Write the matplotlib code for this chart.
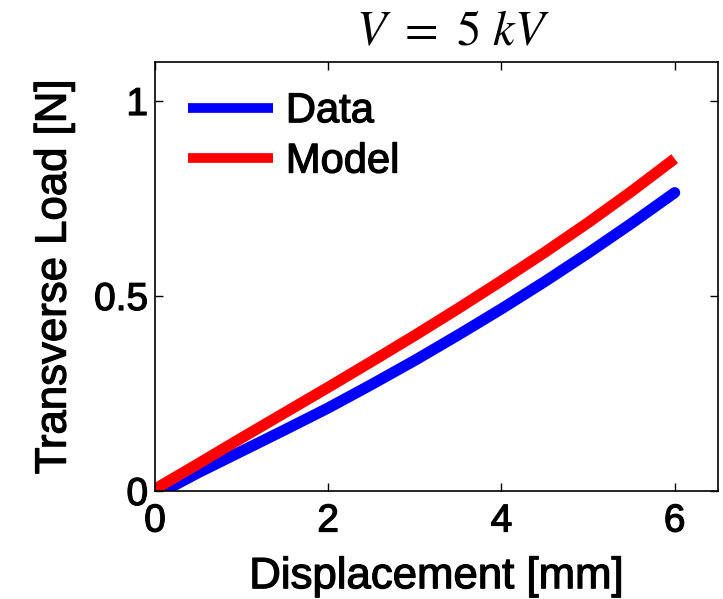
import matplotlib
matplotlib.use("Agg")
import matplotlib.pyplot as plt
import matplotlib.patheffects as pe

data_x = [0.1, 0.5, 1, 1.5, 2, 2.5, 3, 3.5, 4, 4.5, 5, 5.5, 6]
data_y = [0.0, 0.047, 0.102, 0.157, 0.213, 0.273, 0.335, 0.4, 0.467, 0.537, 0.61, 0.686, 0.765]
model_x = [0, 0.5, 1, 1.5, 2, 2.5, 3, 3.5, 4, 4.5, 5, 5.5, 6]
model_y = [0.005, 0.07, 0.136, 0.201, 0.266, 0.332, 0.399, 0.468, 0.539, 0.612, 0.688, 0.768, 0.852]

plt.rcParams['font.family'] = ['Liberation Sans', 'DejaVu Sans']
plt.rcParams['mathtext.fontset'] = 'stix'

fig = plt.figure(figsize=(7.23, 5.99), dpi=100)
ax = fig.add_axes([155/723, 1-491/599, (718-155)/723, (491-62)/599])

ax.plot(data_x, data_y, color='#0000ff', lw=8, label='Data', solid_capstyle='round', solid_joinstyle='round')
ax.plot(model_x, model_y, color='#ff0000', lw=8, label='Model', solid_capstyle='butt', solid_joinstyle='round')

ax.set_xlim(0, 6.5)
ax.set_ylim(0, 1.1)
ax.set_xticks([0, 2, 4, 6])
ax.set_yticks([0, 0.5, 1])
ax.set_yticklabels(['0', '0.5', '1'])
ax.tick_params(direction='in', labelsize=28, length=6, width=1, top=True, right=True)
ax.tick_params(axis='x', pad=9)
ax.tick_params(axis='y', pad=5)
for s in ax.spines.values():
    s.set_linewidth(1.2)
xl = ax.set_xlabel('Displacement [mm]', fontsize=31.5, labelpad=12)
yl = ax.set_ylabel('Transverse Load [N]', fontsize=31.5, labelpad=14)
tt = ax.set_title(r'$V\ =\ 5\ kV$', fontsize=35, pad=12, x=0.528)
leg = ax.legend(loc='upper left', frameon=False, fontsize=30, handlelength=2.06,
                handletextpad=0.3, labelspacing=0.25,
                bbox_to_anchor=(0.006, 1.0), borderaxespad=0.3)
for h in leg.get_lines():
    h.set_linewidth(7)
    h.set_solid_capstyle('butt')

bold = [pe.withStroke(linewidth=0.9, foreground='black')]
texts = [xl, yl] + ax.get_xticklabels() + ax.get_yticklabels() + leg.get_texts()
for t in texts:
    t.set_path_effects(bold)

fig.savefig('out.png', dpi=100)
